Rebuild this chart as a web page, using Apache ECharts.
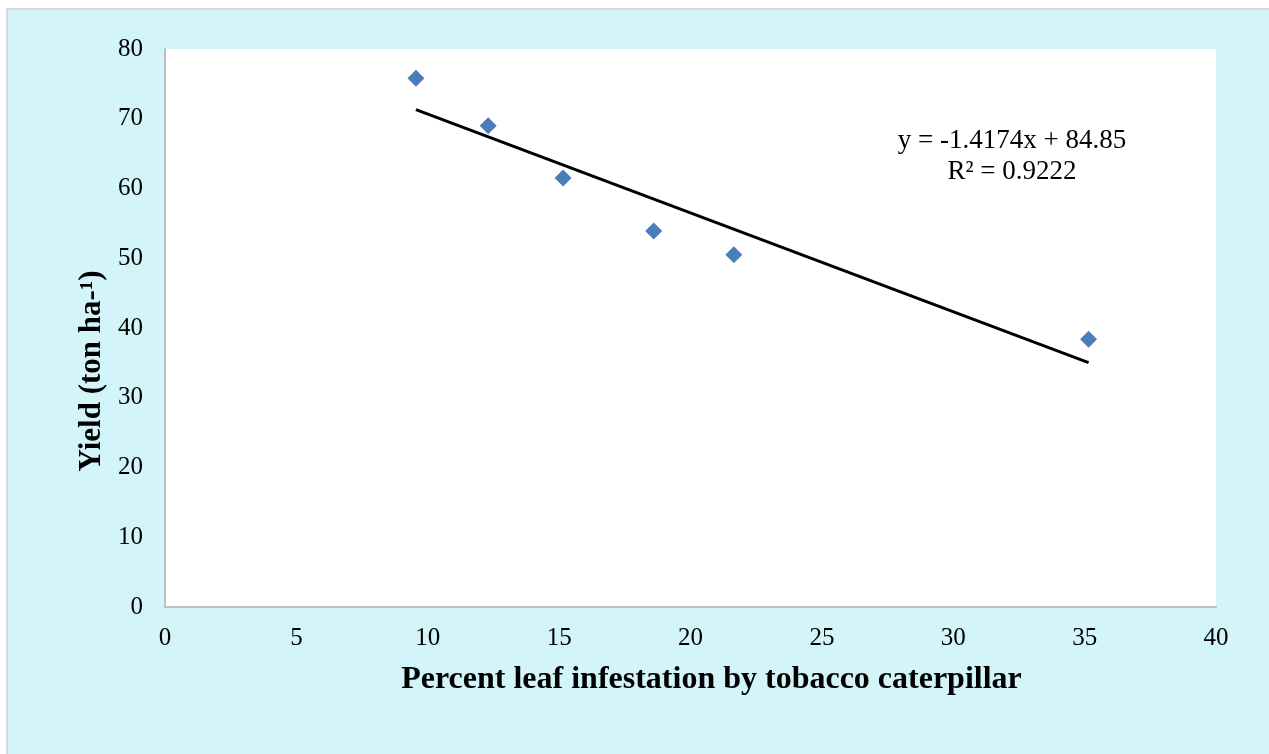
<!DOCTYPE html>
<html>
<head>
<meta charset="utf-8">
<script src="https://cdn.jsdelivr.net/npm/echarts@6/dist/echarts.min.js"></script>
<style>
  html, body { margin: 0; padding: 0; background: #fff; }
  #frame {
    position: absolute; left: 6px; top: 8px; width: 1263px; height: 746px;
    box-sizing: border-box; border: 2px solid #d9d9d9; border-right: none; border-bottom: none;
    background: #d3f5f9;
  }
  #chart { position: absolute; left: 0; top: 0; width: 1269px; height: 754px; }
</style>
</head>
<body>
<div id="frame"></div>
<div id="chart"></div>
<script>
// percent leaf infestation vs yield
const infestation = [9.55, 12.3, 15.15, 18.6, 21.65, 35.15];
const yieldTon = [75.8, 69.0, 61.5, 53.9, 50.5, 38.4];
const slope = -1.4174;
const intercept = 84.85;
const rSquared = 0.9222;

const points = infestation.map((x, i) => [x, yieldTon[i]]);
const xMin = Math.min(...infestation), xMax = Math.max(...infestation);
const trend = [[xMin, slope * xMin + intercept], [xMax, slope * xMax + intercept]];

const serif = '"Liberation Serif", "Times New Roman", serif';
let chart = echarts.init(document.getElementById('chart'));
chart.setOption({
  backgroundColor: 'transparent',
  animation: false,
  grid: { left: 165, right: 53, top: 49, bottom: 147, show: true, backgroundColor: '#fff', borderWidth: 0 },
  xAxis: {
    type: 'value', min: 0, max: 40, interval: 5,
    name: 'Percent leaf infestation by tobacco caterpillar',
    nameLocation: 'middle', nameGap: 57,
    nameTextStyle: { fontFamily: serif, fontSize: 32, fontWeight: 'bold', color: '#000', padding: [0, 0, 0, 42] },
    axisLine: { lineStyle: { color: '#bfbfbf', width: 2 } },
    axisTick: { show: false },
    splitLine: { show: false },
    axisLabel: { fontFamily: serif, fontSize: 25, color: '#000', margin: 19 }
  },
  yAxis: {
    type: 'value', min: 0, max: 80, interval: 10,
    name: 'Yield (ton ha-¹)',
    nameLocation: 'middle', nameGap: 44,
    nameTextStyle: { fontFamily: serif, fontSize: 31, fontWeight: 'bold', color: '#000', padding: [0, 86, 0, 0] },
    axisLine: { show: true, lineStyle: { color: '#bfbfbf', width: 2 } },
    axisTick: { show: false },
    splitLine: { show: false },
    axisLabel: { fontFamily: serif, fontSize: 25, color: '#000', margin: 22 }
  },
  series: [
    {
      type: 'line', data: trend, symbol: 'none', silent: true,
      lineStyle: { color: '#000', width: 3 }, z: 2
    },
    {
      type: 'scatter', data: points, symbol: 'diamond', symbolSize: 17,
      itemStyle: { color: '#4a7ebb', opacity: 1 }, z: 3
    }
  ],
  graphic: [
    {
      type: 'text', x: 1012, y: 125,
      style: {
        text: 'y = ' + slope + 'x + ' + intercept + '\nR² = ' + rSquared,
        font: '27px ' + serif, fill: '#000', align: 'center', lineHeight: 31
      }
    }
  ]
});
</script>
</body>
</html>
